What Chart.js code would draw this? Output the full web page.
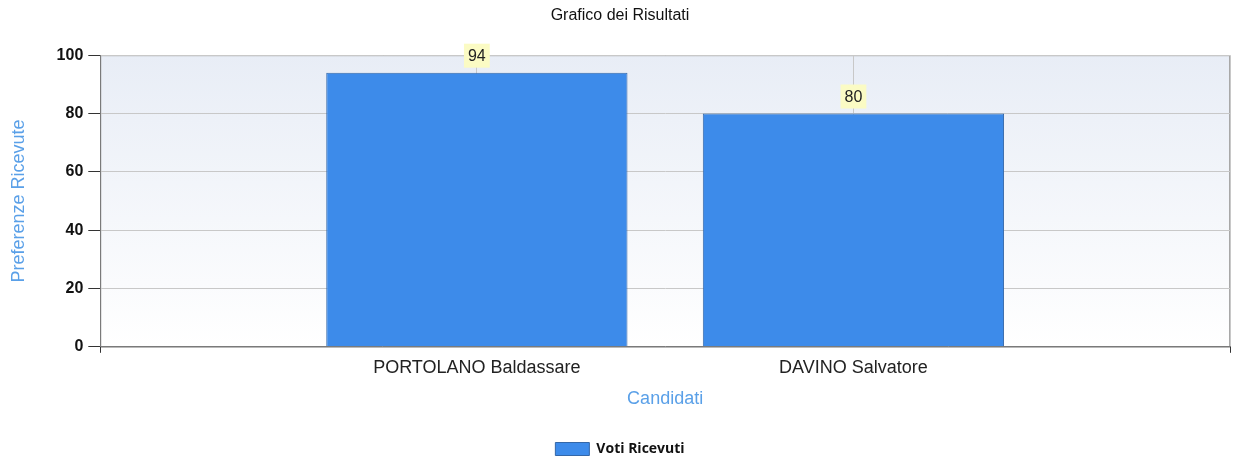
<!DOCTYPE html>
<html>
<head>
<meta charset="utf-8">
<script src="https://cdn.jsdelivr.net/npm/chart.js@4"></script>
<style>
  html, body { margin: 0; padding: 0; background: #fff; }
  #wrap { width: 1234px; height: 461px; }
</style>
</head>
<body>
<div id="wrap"><canvas id="myChart" width="1234" height="461"></canvas></div>
<script>
    const categories = ['PORTOLANO Baldassare', 'DAVINO Salvatore'];
    const votes = [94, 80];
    const yTicks = [0, 20, 40, 60, 80, 100];

    const FONT = '"Liberation Sans", Arial, sans-serif';

    // plot background: light blue-grey fading to white, with a grey frame
    const plotBackground = {
        id: 'plotBackground',
        beforeDraw(chart) {
            const a = chart.chartArea;
            const ctx = chart.ctx;
            const g = ctx.createLinearGradient(0, a.top, 0, a.bottom);
            g.addColorStop(0, '#e8edf6');
            g.addColorStop(1, '#ffffff');
            ctx.save();
            ctx.fillStyle = g;
            ctx.fillRect(a.left, a.top, a.right - a.left, a.bottom - a.top);
            ctx.strokeStyle = '#a8a8a8';
            ctx.lineWidth = 1;
            ctx.strokeRect(a.left + 0.5, a.top + 0.5, a.right - a.left - 1, a.bottom - a.top);
            ctx.restore();
        }
    };

    // value labels on yellow boxes above the bars
    const valueLabels = {
        id: 'valueLabels',
        afterDatasetsDraw(chart) {
            const ctx = chart.ctx;
            const meta = chart.getDatasetMeta(0);
            ctx.save();
            ctx.font = '16px ' + FONT;
            ctx.textAlign = 'center';
            ctx.textBaseline = 'middle';
            meta.data.forEach((bar, i) => {
                const txt = String(votes[i]);
                const cy = bar.y - 17;
                const w = ctx.measureText(txt).width + 8;
                ctx.fillStyle = '#fbfbc4';
                ctx.fillRect(bar.x - w / 2, cy - 12, w, 24);
                ctx.fillStyle = '#222';
                ctx.fillText(txt, bar.x, cy + 1);
            });
            ctx.restore();
        }
    };

    new Chart('myChart', {
        type: 'bar',
        data: {
            datasets: [{
                label: 'Voti Ricevuti',
                data: votes.map((v, i) => ({ x: i + 1, y: v })),
                backgroundColor: '#3d8bea',
                borderColor: '#3467a8',
                borderWidth: 1,
                categoryPercentage: 1,
                barPercentage: 0.8
            }]
        },
        options: {
            responsive: false,
            animation: false,
            layout: { padding: { left: 8, right: 2, top: 0, bottom: -5 } },
            plugins: {
                title: {
                    display: true,
                    text: 'Grafico dei Risultati',
                    color: '#111',
                    font: { family: FONT, size: 16, weight: 'normal' },
                    padding: { top: 6, bottom: 30 }
                },
                legend: {
                    position: 'bottom',
                    labels: {
                        boxWidth: 34,
                        boxHeight: 13,
                        color: '#111',
                        font: { family: '"Open Sans", Arial, sans-serif', size: 14, weight: 'bold' },
                        padding: 3
                    }
                },
                tooltip: { enabled: false }
            },
            scales: {
                x: {
                    type: 'linear',
                    min: 0,
                    max: categories.length + 1,
                    offset: false,
                    ticks: {
                        stepSize: 1,
                        color: '#222',
                        font: { family: FONT, size: 18 },
                        padding: 4,
                        callback: v => categories[v - 1] || ''
                    },
                    grid: {
                        offset: false,
                        color: '#c8c8c8',
                        tickLength: 6,
                        tickColor: ctx => (ctx.tick && (ctx.tick.value === 0 || ctx.tick.value === categories.length + 1)) ? '#333' : 'rgba(0,0,0,0)'
                    },
                    border: { color: '#7a7a7a', width: 1 },
                    title: {
                        display: true,
                        text: 'Candidati',
                        color: '#5aa0e8',
                        font: { family: FONT, size: 18 },
                        padding: { top: 6, bottom: 29 }
                    }
                },
                y: {
                    min: 0,
                    max: 100,
                    afterBuildTicks: axis => { axis.ticks = yTicks.map(v => ({ value: v })); },
                    ticks: {
                        color: '#111',
                        font: { family: FONT, size: 16, weight: 'bold' },
                        padding: 5
                    },
                    grid: {
                        color: '#c8c8c8',
                        tickLength: 12,
                        tickColor: '#333'
                    },
                    border: { color: '#7a7a7a', width: 1 },
                    title: {
                        display: true,
                        text: 'Preferenze Ricevute',
                        color: '#5aa0e8',
                        font: { family: FONT, size: 18 },
                        padding: { top: 0, bottom: 22 }
                    }
                }
            }
        },
        plugins: [plotBackground, valueLabels]
    });
</script>
</body>
</html>
